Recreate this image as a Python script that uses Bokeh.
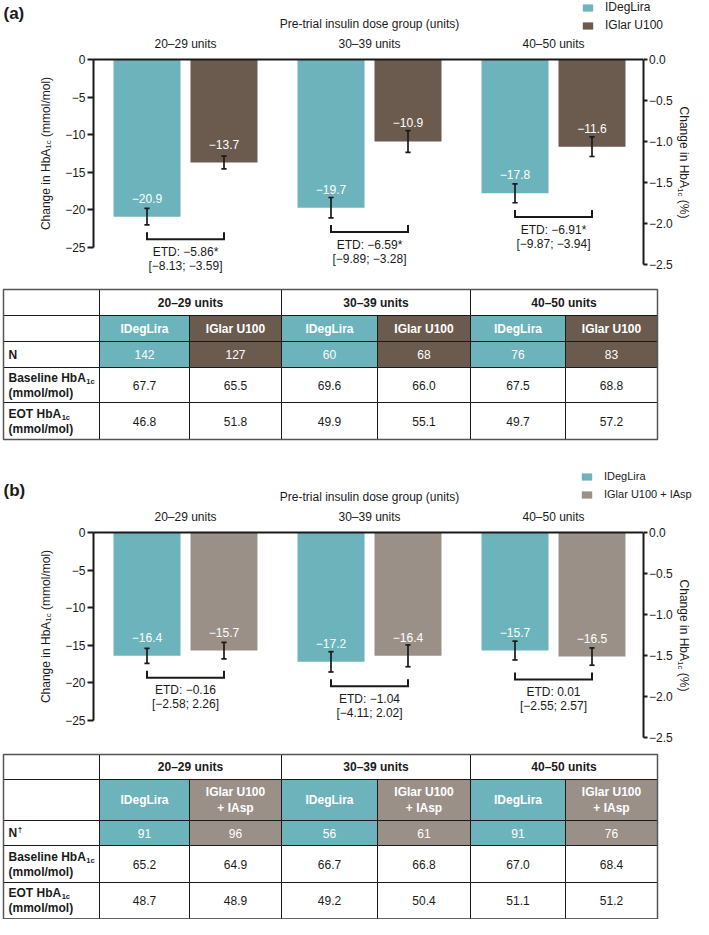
import numpy as np
from math import pi
from bokeh.plotting import figure
from bokeh.models import (Range1d, LinearAxis, FixedTicker, CustomJSTickFormatter,
                          Legend, LegendItem)
from bokeh.layouts import column
from bokeh.embed import file_html
from bokeh.resources import INLINE
from bokeh.core.properties import value

# ---------------- data ----------------
dose_groups = ["20–29 units", "30–39 units", "40–50 units"]
x_title = "Pre-trial insulin dose group (units)"

a_series = ["IDegLira", "IGlar U100"]
a_ideg = [-20.9, -19.7, -17.8]
a_comp = [-13.7, -10.9, -11.6]
a_ideg_se = [1.1, 1.35, 1.25]
a_comp_se = [0.85, 1.45, 1.3]
a_etd = ["ETD: −5.86*", "ETD: −6.59*", "ETD: −6.91*"]
a_ci = ["[−8.13; −3.59]", "[−9.89; −3.28]", "[−9.87; −3.94]"]
a_n = ["142", "127", "60", "68", "76", "83"]
a_base = ["67.7", "65.5", "69.6", "66.0", "67.5", "68.8"]
a_eot = ["46.8", "51.8", "49.9", "55.1", "49.7", "57.2"]

b_series = ["IDegLira", "IGlar U100 + IAsp"]
b_ideg = [-16.4, -17.2, -15.7]
b_comp = [-15.7, -16.4, -16.5]
b_ideg_se = [1.0, 1.35, 1.25]
b_comp_se = [1.1, 1.45, 1.15]
b_etd = ["ETD: −0.16", "ETD: −1.04", "ETD: 0.01"]
b_ci = ["[−2.58; 2.26]", "[−4.11; 2.02]", "[−2.55; 2.57]"]
b_n = ["91", "96", "56", "61", "91", "76"]
b_base = ["65.2", "64.9", "66.7", "66.8", "67.0", "68.4"]
b_eot = ["48.7", "48.9", "49.2", "50.4", "51.1", "51.2"]

mmol_ticks = [0, -5, -10, -15, -20, -25]
pct_ticks = [0.0, -0.5, -1.0, -1.5, -2.0, -2.5]
MMOL_PER_PCT = 10.929

# ---------------- style ----------------
W = 693
FONT = "Liberation Sans"
TEAL = "#6DB3BC"
BROWN = "#6B5B4E"
GREYBROWN = "#9B9088"
INK = "#1a1a1a"
PX = 184.0       # px per group unit
PPY = 7.52       # px per mmol/mol
AX_L, AX_R = 0.5, 3.487

REG = {' ': 278, '(': 333, ')': 333, '%': 889, '/': 278, '1': 556, 'c': 500, 'A': 667,
       'C': 722, 'H': 722, 'a': 556, 'b': 556, 'e': 556, 'g': 556, 'h': 556, 'i': 222,
       'l': 222, 'm': 833, 'n': 556, 'o': 556}
BOLD = {' ': 278, '(': 333, ')': 333, '/': 278, '1': 556, 'c': 556, 'A': 722, 'B': 722,
        'E': 667, 'H': 722, 'O': 778, 'T': 611, 'a': 556, 'b': 611, 'e': 556, 'i': 278,
        'l': 278, 'm': 889, 'n': 611, 'o': 611, 's': 556, 'N': 722}


def tw(s, size, bold=False):
    t = BOLD if bold else REG
    return sum(t.get(ch, 556) for ch in s) * size / 1000.0


def T(p, x, y, s, size=12, bold=False, color=INK, align="center", baseline="middle", angle=0.0):
    p.text(x=[x], y=[y], text=[s], text_font=value(FONT), text_font_size=value(f"{size}px"),
           text_font_style="bold" if bold else "normal", text_color=color,
           text_align=align, text_baseline=baseline, angle=angle)


def fmt(v):
    return f"{v:.1f}".replace("-", "−")


def style_axis(ax, tick_out, standoff):
    ax.axis_line_width = 2
    ax.axis_line_color = INK
    ax.major_tick_line_width = 2
    ax.major_tick_line_color = INK
    ax.major_tick_in = 0
    ax.major_tick_out = tick_out
    ax.minor_tick_line_color = None
    ax.major_label_text_font = FONT
    ax.major_label_text_font_size = "12px"
    ax.major_label_text_color = INK
    ax.major_label_standoff = standoff


def make_chart(letter, series, v1, v2, s1, s2, etd, ci, comp_color, top, H, zero,
               gc1, letter_y, leg_top, leg_x, leg_font):
    # page-pixel -> data helpers (layout only)
    X = lambda px: 1 + (px - gc1) / PX
    Y = lambda py: (zero - py) / PPY
    p = figure(width=W, height=H, output_backend="svg", toolbar_location=None, tools="",
               x_range=Range1d(X(0), X(W)), y_range=Range1d(Y(top + H), Y(top)),
               x_axis_type=None, y_axis_type=None, min_border=0)
    p.outline_line_color = None
    p.background_fill_color = "white"
    p.extra_y_ranges = {"pct": Range1d(Y(top + H) / MMOL_PER_PCT, Y(top) / MMOL_PER_PCT)}

    g = np.arange(1, len(dose_groups) + 1, dtype=float)
    off, bw = 38.5 / PX, 67 / PX
    v1, v2, s1, s2 = map(np.array, (v1, v2, s1, s2))
    x1, x2 = g - off, g + off
    r1 = p.vbar(x=x1, top=0, bottom=v1, width=bw, fill_color=TEAL, line_color=None)
    r2 = p.vbar(x=x2, top=0, bottom=v2, width=bw, fill_color=comp_color, line_color=None)
    p.segment(x0=[AX_L], y0=[0], x1=[AX_R], y1=[0], line_color=INK, line_width=2)

    cap = 2.6 / PX
    for xs, v, s in ((x1, v1, s1), (x2, v2, s2)):
        p.segment(x0=xs, y0=v - s, x1=xs, y1=v + s, line_color=INK, line_width=1.7)
        p.segment(x0=xs - cap, y0=v - s, x1=xs + cap, y1=v - s, line_color=INK, line_width=1.7)
        p.segment(x0=xs - cap, y0=v + s, x1=xs + cap, y1=v + s, line_color=INK, line_width=1.7)
        p.text(x=xs, y=v + 18.5 / PPY, text=[fmt(t) for t in v], text_font=value(FONT),
               text_font_size=value("12px"), text_color="white", text_align="center",
               text_baseline="middle")

    yb = np.minimum(v1 - s1, v2 - s2) - 1.9
    tk = 7 / PPY
    p.multi_line(xs=[[a, a, b, b] for a, b in zip(x1, x2)],
                 ys=[[y + tk, y, y, y + tk] for y in yb],
                 line_color=INK, line_width=2, line_join="miter")
    p.text(x=g, y=yb - 12.5 / PPY, text=etd, text_font=value(FONT), text_font_size=value("12px"),
           text_color=INK, text_align="center", text_baseline="middle")
    p.text(x=g, y=yb - 26.5 / PPY, text=ci, text_font=value(FONT), text_font_size=value("12px"),
           text_color=INK, text_align="center", text_baseline="middle")

    left = LinearAxis(fixed_location=AX_L, bounds=(min(mmol_ticks), max(mmol_ticks)),
                      ticker=FixedTicker(ticks=mmol_ticks),
                      formatter=CustomJSTickFormatter(
                          code="return tick == 0 ? '0' : '\u2212' + Math.abs(tick).toFixed(0);"))
    style_axis(left, 6, 2)
    p.add_layout(left, "left")
    right = LinearAxis(y_range_name="pct", fixed_location=AX_R,
                       bounds=(min(pct_ticks), max(pct_ticks)),
                       ticker=FixedTicker(ticks=pct_ticks),
                       formatter=CustomJSTickFormatter(
                           code="return tick == 0 ? '0.0' : '\u2212' + Math.abs(tick).toFixed(1);"))
    style_axis(right, 4, 2)
    p.add_layout(right, "right")

    # titles
    T(p, X(3), Y(letter_y), letter, size=17, bold=True, align="left")
    T(p, 2.0, Y(zero - 36), x_title)
    for i, lab in enumerate(dose_groups):
        T(p, g[i], Y(zero - 16), lab)

    # left axis label (rotated, with subscript)
    w1, w2, ws = tw("Change in HbA", 12), tw("1c", 8), tw(" ", 12)
    w3 = tw("(mmol/mol)", 12)
    c = zero + 94
    bot = c + (w1 + w2 + ws + w3) / 2
    xl = 45
    T(p, X(xl), Y(bot), "Change in HbA", align="left", angle=pi / 2)
    T(p, X(xl + 3), Y(bot - w1), "1c", size=8, align="left", angle=pi / 2)
    T(p, X(xl), Y(bot - w1 - w2 - ws), "(mmol/mol)", align="left", angle=pi / 2)

    # right axis label
    rs = 12
    w1r, w2r, wsr, w3r = tw("Change in HbA", rs), tw("1c", 8), tw(" ", rs), tw("(%)", rs)
    c = zero + 103
    topr = c - (w1r + w2r + wsr + w3r) / 2
    xr = 683
    T(p, X(xr), Y(topr), "Change in HbA", size=rs, align="left", angle=-pi / 2)
    T(p, X(xr - 3), Y(topr + w1r), "1c", size=8, align="left", angle=-pi / 2)
    T(p, X(xr), Y(topr + w1r + w2r + wsr), "(%)", size=rs, align="left", angle=-pi / 2)

    LH, SP = 14, 4
    legend = Legend(items=[LegendItem(label=value(series[0]), renderers=[r1]),
                           LegendItem(label=value(series[1]), renderers=[r2])],
                    location=(leg_x, H - (leg_top - top) - (2 * LH + SP)),
                    orientation="vertical", glyph_width=13, glyph_height=9, label_height=LH,
                    spacing=SP, padding=0, margin=0, label_standoff=11,
                    label_text_font=FONT, label_text_font_size=leg_font,
                    label_text_color=INK, border_line_color=None, background_fill_alpha=0)
    p.add_layout(legend)
    return p


COLS = [3, 99, 189, 281, 377, 470, 565, 657]


def make_table(H, rows, series, n, base, eot, comp_color, two_line, nlabel_dagger):
    p = figure(width=W, height=H, output_backend="svg", toolbar_location=None, tools="",
               x_range=Range1d(0, W), y_range=Range1d(H, 0),
               x_axis_type=None, y_axis_type=None, min_border=0)
    p.outline_line_color = None
    L, R, Tt, B, F = [], [], [], [], []

    def cell(l, r, t, b, f):
        L.append(l); R.append(r); Tt.append(t); B.append(b); F.append(f)

    cx = COLS
    cell(cx[0], cx[1], rows[0], rows[1], "white")
    for k in range(3):
        cell(cx[1 + 2 * k], cx[3 + 2 * k], rows[0], rows[1], "white")
    for ri in range(1, 5):
        cell(cx[0], cx[1], rows[ri], rows[ri + 1], "white")
        for j in range(6):
            if ri in (1, 2):
                f = TEAL if j % 2 == 0 else comp_color
            else:
                f = "white"
            cell(cx[1 + j], cx[2 + j], rows[ri], rows[ri + 1], f)
    p.quad(left=L, right=R, top=Tt, bottom=B, fill_color=F, line_color=INK, line_width=1)
    p.quad(left=[cx[0]], right=[cx[-1]], top=[rows[0]], bottom=[rows[-1]], fill_color=None,
           line_color="#555", line_width=1.5)

    mid = lambda i: (rows[i] + rows[i + 1]) / 2
    for k, lab in enumerate(dose_groups):
        T(p, (cx[1 + 2 * k] + cx[3 + 2 * k]) / 2, mid(0), lab, bold=True)
    for j in range(6):
        xc = (cx[1 + j] + cx[2 + j]) / 2
        name = series[j % 2]
        if j % 2 == 1 and two_line:
            a, b = name.split(" + ")
            T(p, xc, mid(1) - 8, a, bold=True, color="white")
            T(p, xc, mid(1) + 8, "+ " + b, bold=True, color="white")
        else:
            T(p, xc, mid(1), name, bold=True, color="white")
        T(p, xc, mid(2), n[j], color="white")
        T(p, xc, mid(3), base[j])
        T(p, xc, mid(4), eot[j])
    x0 = cx[0] + 5
    T(p, x0, mid(2), "N", bold=True, align="left")
    if nlabel_dagger:
        T(p, x0 + tw("N", 12, True) + 0.5, mid(2) - 4, "†", size=8, bold=True, align="left")
    for ri, head in ((3, "Baseline HbA"), (4, "EOT HbA")):
        y1, y2 = mid(ri) - 7.5, mid(ri) + 7.5
        T(p, x0, y1, head, bold=True, align="left")
        T(p, x0 + tw(head, 12, True) + 0.5, y1 + 3.5, "1c", size=7.5, bold=True, align="left")
        T(p, x0, y2, "(mmol/mol)", bold=True, align="left")
    return p


chart_a = make_chart("(a)", a_series, a_ideg, a_comp, a_ideg_se, a_comp_se, a_etd, a_ci, BROWN,
                     top=0, H=282, zero=59, gc1=185, letter_y=13, leg_top=0, leg_x=581,
                     leg_font="12px")
table_a = make_table(163, [7, 33, 59, 85, 120, 157], a_series, a_n, a_base, a_eot, BROWN,
                     False, False)
chart_b = make_chart("(b)", b_series, b_ideg, b_comp, b_ideg_se, b_comp_se, b_etd, b_ci, GREYBROWN,
                     top=445, H=300, zero=532, gc1=185, letter_y=490, leg_top=469, leg_x=580,
                     leg_font="11px")
table_b = make_table(174, [9, 34, 75, 100, 137, 173.5], b_series, b_n, b_base, b_eot, GREYBROWN,
                     True, True)

layout = column(chart_a, table_a, chart_b, table_b, spacing=0)
with open("out.html", "w", encoding="utf-8") as f:
    f.write(file_html(layout, INLINE))
